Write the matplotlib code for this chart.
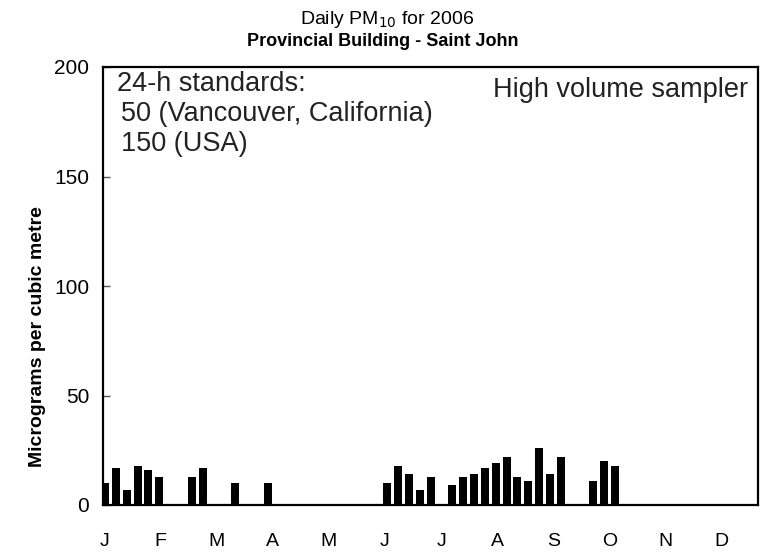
import numpy as np
import matplotlib.pyplot as plt

plt.rcParams['font.family'] = ['Liberation Sans', 'DejaVu Sans']

# sample day of year (1-in-6 day schedule) and daily PM10 values
days = [1, 7, 13, 19, 25, 31, 49, 55, 73, 91,
        157, 163, 169, 175, 181, 193, 199, 205, 211, 217, 223, 229, 235, 241, 247, 253,
        271, 277, 283]
pm10 = [10, 17, 7, 18, 16, 13, 13, 17, 10, 10,
        10, 18, 14, 7, 13, 9, 13, 14, 17, 19, 22, 13, 11, 26, 14, 22,
        11, 20, 18]
months = ["J", "F", "M", "A", "M", "J", "J", "A", "S", "O", "N", "D"]
month_pos = [0.6, 31.6, 62.7, 93.7, 124.8, 155.8, 186.8, 217.9, 248.9, 280.0, 311.0, 342.0]
yticks = [0, 50, 100, 150, 200]

W, H = 765, 555
fig = plt.figure(figsize=(W / 100, H / 100), dpi=100)
ax = fig.add_axes([103 / W, 1 - 505 / H, 655 / W, 438 / H])

ax.bar(days, pm10, width=4.4, color="black", edgecolor="none")

ax.set_xlim(-0.1, 362)
ax.set_ylim(0, 200)
ax.set_yticks(yticks)
ax.set_xticks(month_pos)
ax.set_xticklabels(months)
ax.tick_params(axis="x", length=0, pad=20, labelsize=14)
ax.tick_params(axis="y", direction="in", length=5, width=1, color="#555555",
               pad=10, labelsize=15)
for s in ax.spines.values():
    s.set_linewidth(1.6)


def ftext(x, y, s, **kw):
    fig.text(x / W, 1 - y / H, s, **kw)


ftext(38, 337, "Micrograms per cubic metre", ha="center", va="center", rotation=90,
      fontsize=14, fontweight="bold")

ftext(387, 24, r"Daily PM$_{10}$ for 2006", ha="center", va="baseline", fontsize=14)
ftext(383, 46, "Provincial Building - Saint John", ha="center", va="baseline",
      fontsize=13, fontweight="bold")

ftext(117, 91, "24-h standards:", ha="left", va="baseline", fontsize=19.5, color="#222222")
ftext(121, 121, "50 (Vancouver, California)", ha="left", va="baseline", fontsize=19.5, color="#222222")
ftext(121, 151, "150 (USA)", ha="left", va="baseline", fontsize=19.5, color="#222222")
ftext(748, 97, "High volume sampler", ha="right", va="baseline", fontsize=19.5, color="#222222")

fig.savefig("out.png", dpi=100)
